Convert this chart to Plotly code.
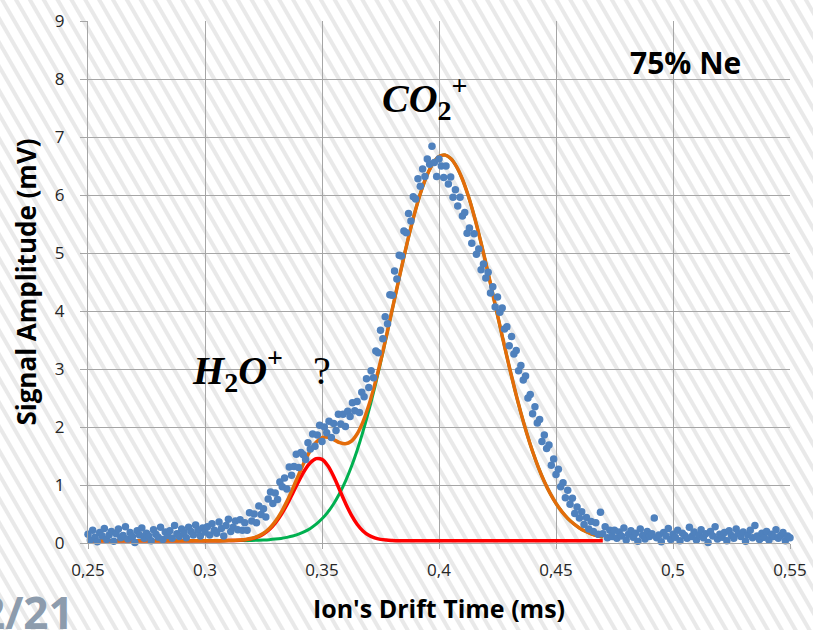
import base64
import numpy as np
import plotly.graph_objects as go

# ---------------- data ----------------
# measured signal, one sample per microsecond from 0.250 to 0.550 ms
signal_mv = [
    0.15, 0.05, 0.22, 0.10, 0.02, 0.18, 0.12, 0.25, 0.06, 0.14,
    0.20, 0.03, 0.16, 0.24, 0.09, 0.13, 0.28, 0.07, 0.18, 0.11,
    0.01, 0.21, 0.14, 0.26, 0.08, 0.17, 0.12, 0.04, 0.23, 0.15,
    0.10, 0.27, 0.06, 0.19, 0.13, 0.21, 0.08, 0.30, 0.16, 0.11,
    0.24, 0.18, 0.09, 0.27, 0.20, 0.14, 0.31, 0.22, 0.12, 0.26,
    0.19,
    0.28, 0.14, 0.33, 0.22, 0.17, 0.36, 0.25, 0.12, 0.30, 0.41, 0.20, 0.27, 0.38, 0.23,
    0.40, 0.22, 0.35, 0.22, 0.52, 0.38, 0.50, 0.35, 0.64, 0.49,
    0.59, 0.45, 0.76, 0.88, 0.68, 0.86, 0.75, 1.05, 0.97, 1.12,
    0.93, 1.31, 1.17, 1.32, 1.53, 1.30, 1.56, 1.52, 1.44, 1.73,
    1.62, 1.88, 1.67, 1.86, 2.03, 1.75, 2.00, 1.90, 2.10, 1.82,
    2.06, 1.94, 2.22, 2.05, 2.22, 2.01, 2.27, 2.18, 2.42, 2.28,
    2.44, 2.25, 2.60, 2.52, 2.83, 2.68, 2.97, 2.85, 3.31, 3.28,
    3.67, 3.52, 3.90, 3.78, 4.28, 4.27, 4.69, 4.55, 4.96, 4.95,
    5.38, 5.35, 5.68, 5.55, 5.97, 5.93, 6.28, 6.15, 6.45, 6.32,
    6.62, 6.53, 6.84, 6.56, 6.32, 6.62, 6.50, 6.30, 6.50, 6.19,
    6.31, 5.96, 6.09, 5.81, 5.96, 5.64, 5.70, 5.34, 5.43, 5.17,
    5.33, 4.98, 5.07, 4.71, 4.81, 4.57, 4.67, 4.31, 4.42, 4.07,
    4.24, 3.98, 4.05, 3.69, 3.73, 3.40, 3.56, 3.26, 3.32, 2.97,
    3.06, 2.81, 2.88, 2.50, 2.56, 2.23, 2.35, 2.07, 2.13, 1.75,
    1.86, 1.63, 1.69, 1.34, 1.45, 1.18, 1.27, 0.97, 1.04, 0.78,
    0.91, 0.67, 0.77, 0.51, 0.62, 0.43, 0.54, 0.32, 0.44, 0.24,
    0.37, 0.20, 0.35, 0.15, 0.53, 0.16, 0.28, 0.09, 0.22, 0.11,
    0.22,
    0.08, 0.19, 0.12, 0.26, 0.05, 0.15, 0.21, 0.10, 0.17, 0.03,
    0.24, 0.13, 0.07, 0.20, 0.11, 0.16, 0.43, 0.09, 0.14, 0.02,
    0.18, 0.12, 0.25, 0.06, 0.15, 0.10, 0.22, 0.04, 0.17, 0.13,
    0.08, 0.27, 0.11, 0.19, 0.05, 0.14, 0.23, 0.09, 0.16, 0.01,
    0.20, 0.12, 0.28, 0.07, 0.15, 0.10, 0.18, 0.04, 0.21, 0.13,
    0.08, 0.24, 0.16, 0.11, 0.19, 0.03, 0.14, 0.22, 0.09, 0.30,
    0.12, 0.06, 0.17, 0.10, 0.20, 0.05, 0.15, 0.11, 0.23, 0.08,
    0.13, 0.18, 0.04, 0.12, 0.09,
]
signal_time_ms = np.round(np.linspace(0.25, 0.55, len(signal_mv)), 3)

fit_time_ms = [
    0.25, 0.26, 0.27, 0.28, 0.29, 0.30, 0.305, 0.31, 0.315,
    0.3175, 0.32, 0.3225, 0.325, 0.3275, 0.33, 0.3325, 0.335, 0.3375, 0.34,
    0.3425, 0.345, 0.3475, 0.35, 0.3525, 0.355, 0.3575, 0.36, 0.3625, 0.365,
    0.3675, 0.37, 0.3725, 0.375, 0.3775, 0.38, 0.3825, 0.385, 0.3875, 0.39,
    0.3925, 0.395, 0.3975, 0.40, 0.4025, 0.405, 0.4075, 0.41, 0.4125, 0.415,
    0.4175, 0.42, 0.4225, 0.425, 0.4275, 0.43, 0.4325, 0.435, 0.4375, 0.44,
    0.4425, 0.445, 0.4475, 0.45, 0.4525, 0.455, 0.4575, 0.46, 0.4625, 0.465,
    0.4675, 0.47,
]
h2o_fit = [
    0.04, 0.04, 0.04, 0.04, 0.04, 0.04, 0.04, 0.042, 0.049,
    0.058, 0.076, 0.106, 0.156, 0.232, 0.341, 0.485, 0.661, 0.860, 1.063,
    1.246, 1.383, 1.454, 1.441, 1.332, 1.146, 0.919, 0.689, 0.485, 0.324,
    0.208, 0.132, 0.087, 0.062, 0.050, 0.044, 0.04, 0.04, 0.04, 0.04,
    0.04, 0.04, 0.04, 0.04, 0.04, 0.04, 0.04, 0.04, 0.04, 0.04,
    0.04, 0.04, 0.04, 0.04, 0.04, 0.04, 0.04, 0.04, 0.04, 0.04,
    0.04, 0.04, 0.04, 0.04, 0.04, 0.04, 0.04, 0.04, 0.04, 0.04,
    0.04, 0.04,
]
co2_fit = [
    0.04, 0.04, 0.04, 0.04, 0.04, 0.04, 0.04, 0.041, 0.042,
    0.043, 0.045, 0.048, 0.052, 0.058, 0.067, 0.079, 0.097, 0.120, 0.152,
    0.195, 0.251, 0.324, 0.417, 0.533, 0.677, 0.853, 1.062, 1.309, 1.595,
    1.920, 2.282, 2.680, 3.107, 3.557, 4.019, 4.482, 4.933, 5.360, 5.747,
    6.082, 6.353, 6.548, 6.662, 6.688, 6.630, 6.489, 6.272, 5.986, 5.643,
    5.252, 4.828, 4.382, 3.929, 3.479, 3.043, 2.629, 2.244, 1.893, 1.577,
    1.300, 1.060, 0.855, 0.683, 0.541, 0.425, 0.333, 0.259, 0.202, 0.159,
    0.126, 0.101,
]
total_fit = [
    0.04, 0.04, 0.04, 0.04, 0.04, 0.04, 0.04, 0.043, 0.051,
    0.061, 0.081, 0.114, 0.168, 0.250, 0.368, 0.524, 0.718, 0.940, 1.175,
    1.401, 1.594, 1.738, 1.818, 1.825, 1.783, 1.732, 1.711, 1.754, 1.879,
    2.088, 2.374, 2.727, 3.129, 3.567, 4.023, 4.482, 4.933, 5.360, 5.747,
    6.082, 6.353, 6.548, 6.662, 6.688, 6.630, 6.489, 6.272, 5.986, 5.643,
    5.252, 4.828, 4.382, 3.929, 3.479, 3.043, 2.629, 2.244, 1.893, 1.577,
    1.300, 1.060, 0.855, 0.683, 0.541, 0.425, 0.333, 0.259, 0.202, 0.159,
    0.126, 0.101,
]

x_tick_vals = [0.25, 0.30, 0.35, 0.40, 0.45, 0.50, 0.55]
x_tick_text = ["0,25", "0,3", "0,35", "0,4", "0,45", "0,5", "0,55"]
y_tick_vals = [0, 1, 2, 3, 4, 5, 6, 7, 8, 9]

# ---------------- figure ----------------
W, H = 813, 630
ML, MR, MT, MB = 88, 23, 21, 87
pw, ph = W - ML - MR, H - MT - MB

fig = go.Figure()
fig.add_trace(go.Scatter(x=fit_time_ms, y=co2_fit, mode="lines", line=dict(color="#00B050", width=3, shape="spline"), hoverinfo="skip"))
fig.add_trace(go.Scatter(x=fit_time_ms, y=h2o_fit, mode="lines", line=dict(color="#FF0000", width=3.5, shape="spline"), hoverinfo="skip"))
fig.add_trace(go.Scatter(x=fit_time_ms, y=total_fit, mode="lines", line=dict(color="#E46C0A", width=3.5, shape="spline"), hoverinfo="skip"))
fig.add_trace(go.Scatter(x=signal_time_ms, y=signal_mv, mode="markers", marker=dict(color="#4F81BD", size=7.5, line=dict(width=0)), cliponaxis=False))

svg = (
    f"<svg xmlns='http://www.w3.org/2000/svg' width='{W}' height='{H}'>"
    "<defs><pattern id='h' width='12' height='12' patternUnits='userSpaceOnUse' patternTransform='rotate(-30)'>"
    "<rect width='4' height='12' fill='#e9e9e9'/></pattern></defs>"
    f"<rect width='{W}' height='{H}' fill='white'/><rect width='{W}' height='{H}' fill='url(#h)'/></svg>"
)
src = "data:image/svg+xml;base64," + base64.b64encode(svg.encode()).decode()

grid = "#a6a6a6"
tickfont = dict(family="Open Sans", size=17, color="#262626")
fig.update_layout(
    width=W, height=H,
    margin=dict(l=ML, r=MR, t=MT, b=MB),
    paper_bgcolor="white",
    plot_bgcolor="rgba(0,0,0,0)",
    showlegend=False,
    images=[dict(source=src, xref="paper", yref="paper", x=-ML / pw, y=1 + MT / ph,
                 sizex=W / pw, sizey=H / ph, sizing="stretch", xanchor="left", yanchor="top", layer="below")],
    xaxis=dict(range=[0.25, 0.55], tickvals=x_tick_vals, ticktext=x_tick_text, showgrid=True, gridcolor=grid,
               gridwidth=1, showline=True, linecolor=grid, linewidth=1, ticks="outside", ticklen=5, tickcolor=grid,
               zeroline=False, tickfont=tickfont, automargin=False, ticklabelstandoff=7,
               title=dict(text="<b>Ion's Drift Time (ms)</b>", font=dict(family="Open Sans", size=25, color="#000"), standoff=20)),
    yaxis=dict(range=[0, 9], tickvals=y_tick_vals, showgrid=True, gridcolor=grid, gridwidth=1,
               showline=True, linecolor=grid, linewidth=1, ticks="outside", ticklen=7, tickcolor=grid,
               zeroline=False, tickfont=tickfont, automargin=False, ticklabelstandoff=12,
               title=dict(text="<b>Signal Amplitude (mV)</b>", font=dict(family="Open Sans", size=26, color="#000"), standoff=10)),
    annotations=[
        dict(x=0.3747, y=7.67, xref="x", yref="y", xanchor="left", yanchor="middle", showarrow=False,
             text="<b><i>CO</i></b><sub><b>2</b></sub><sup><b>+</b></sup>",
             font=dict(family="Liberation Serif", size=40, color="#000")),
        dict(x=0.2938, y=2.98, xref="x", yref="y", xanchor="left", yanchor="middle", showarrow=False,
             text="<b><i>H</i></b><sub><b>2</b></sub><b><i>O</i></b><sup><b>+</b></sup>&nbsp;&nbsp;&nbsp;?",
             font=dict(family="Liberation Serif", size=40, color="#000")),
        dict(x=0.5055, y=8.29, xref="x", yref="y", xanchor="center", yanchor="middle", showarrow=False,
             text="<b>75% Ne</b>", font=dict(family="Open Sans", size=30, color="#000")),
        dict(x=(76 - ML) / pw, y=(H - MB - 612) / ph, xref="paper", yref="paper", xanchor="right", yanchor="middle",
             showarrow=False, text="<b>2/21</b>", font=dict(family="Open Sans", size=44, color="#8d9cad")),
    ],
)

fig.write_html("out.html", config={"displayModeBar": False},
               post_script="document.body.style.margin='0';document.body.style.overflow='hidden';")
